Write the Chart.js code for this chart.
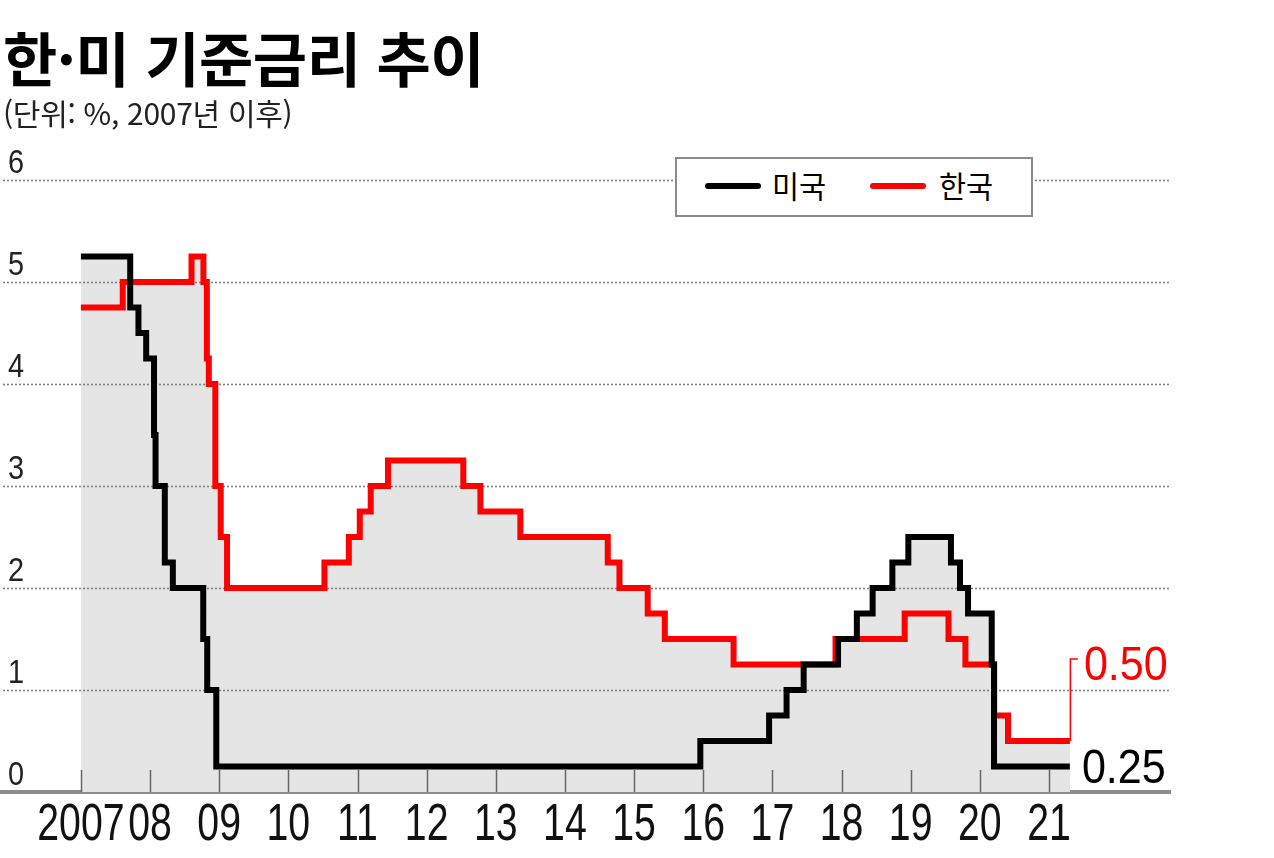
<!DOCTYPE html>
<html lang="ko">
<head>
<meta charset="utf-8">
<script src="https://cdn.jsdelivr.net/npm/chart.js@4.4.0/dist/chart.umd.min.js"></script>
<style>
  html, body { margin: 0; padding: 0; background: #fff; }
  #wrap { position: relative; width: 1274px; height: 858px; overflow: hidden; }
  #chart { position: absolute; left: 0; top: 0; }
  .title { position: absolute; left: 3px; top: 27px; font: 700 59px 'Noto Sans CJK KR', sans-serif; line-height: 60px;
           letter-spacing: -0.5px; white-space: nowrap; }
  .sub { position: absolute; left: 3px; top: 94px; font: 400 30px 'Noto Sans CJK KR', sans-serif; line-height: 36px;
         letter-spacing: -0.3px; white-space: nowrap; color: #222; }
  .legend { position: absolute; left: 675px; top: 157px; width: 354px; height: 56px; background: #fff;
            border: 2px solid #8a8a8a; font: 400 31px 'Noto Sans CJK KR', sans-serif; }
  .legend .sw { position: absolute; top: 24px; width: 56px; height: 6px; border-radius: 3px; }
  .legend .lb { position: absolute; top: 6px; line-height: 40px; transform-origin: left top; transform: scaleX(0.95); }
</style>
</head>
<body>
<div id="wrap">
  <canvas id="chart" width="1274" height="858"></canvas>
  <div class="title">한·미 기준금리 추이</div>
  <div class="sub">(단위: %, 2007년 이후)</div>
  <div class="legend">
    <div class="sw" style="left:28px;background:#000"></div><div class="lb" style="left:95px">미국</div>
    <div class="sw" style="left:193px;background:#ff0000"></div><div class="lb" style="left:262px">한국</div>
  </div>
</div>
<script>
// 기준금리 변경일과 금리 (%)
const usDates = ['2007-01-01', '2007-09-18', '2007-10-31', '2007-12-11', '2008-01-22', '2008-01-30', '2008-03-18',
  '2008-04-30', '2008-10-08', '2008-10-29', '2008-12-16', '2015-12-16', '2016-12-14', '2017-03-15', '2017-06-14',
  '2017-12-13', '2018-03-21', '2018-06-13', '2018-09-26', '2018-12-19', '2019-07-31', '2019-09-18', '2019-10-30',
  '2020-03-03', '2020-03-15', '2021-04-20'];
const usRates = [5.25, 4.75, 4.5, 4.25, 3.5, 3.0, 2.25, 2.0, 1.5, 1.0, 0.25, 0.5, 0.75, 1.0, 1.25,
  1.5, 1.75, 2.0, 2.25, 2.5, 2.25, 2.0, 1.75, 1.25, 0.25, 0.25];

const krDates = ['2007-01-01', '2007-08-09', '2008-08-07', '2008-10-09', '2008-10-27', '2008-11-07', '2008-12-11',
  '2009-01-09', '2009-02-12', '2010-07-09', '2010-11-16', '2011-01-13', '2011-03-10', '2011-06-10', '2012-07-12',
  '2012-10-11', '2013-05-09', '2014-08-14', '2014-10-15', '2015-03-12', '2015-06-11', '2016-06-09', '2017-11-30',
  '2018-11-30', '2019-07-18', '2019-10-16', '2020-03-16', '2020-05-28', '2021-04-20'];
const krRates = [4.75, 5.0, 5.25, 5.0, 4.25, 4.0, 3.0, 2.5, 2.0, 2.25, 2.5, 2.75, 3.0, 3.25, 3.0,
  2.75, 2.5, 2.25, 2.0, 1.75, 1.5, 1.25, 1.5, 1.75, 1.5, 1.25, 0.75, 0.5, 0.5];

const yearTicks = [2007, 2008, 2009, 2010, 2011, 2012, 2013, 2014, 2015, 2016, 2017, 2018, 2019, 2020, 2021];
const tickLabels = ['2007', '08', '09', '10', '11', '12', '13', '14', '15', '16', '17', '18', '19', '20', '21'];

const SANS = "'Liberation Sans', Arial, sans-serif";

// 날짜 문자열 -> 소수 연도
function toYear(s) {
  const [y, m, d] = s.split('-').map(Number);
  return y + (m - 1) / 12 + (d - 1) / 365;
}
function points(dates, rates) {
  return dates.map((d, i) => ({ x: toYear(d), y: rates[i] }));
}

// 좁은 글꼴 흉내 (가로 축소)
function narrowText(ctx, text, x, y, sx) {
  ctx.save();
  ctx.translate(x, y);
  ctx.scale(sx, 1);
  ctx.fillText(text, 0, 0);
  ctx.restore();
}

// 점선 격자, 눈금, 축 라벨, 끝값 표시
const overlay = {
  id: 'overlay',
  beforeDatasetsDraw(chart) {
    const { ctx, chartArea, scales: { x, y } } = chart;
    ctx.save();
    ctx.strokeStyle = '#808080';
    ctx.lineWidth = 1.6;
    ctx.setLineDash([2, 2]);
    y.ticks.forEach(t => {
      if (t.value === 0) return;
      const py = Math.round(y.getPixelForValue(t.value)) + 0.5;
      ctx.beginPath();
      ctx.moveTo(chartArea.left + 3, py);
      ctx.lineTo(chartArea.right, py);
      ctx.stroke();
    });
    ctx.setLineDash([]);
    ctx.strokeStyle = '#666';
    ctx.lineWidth = 1.5;
    x.ticks.forEach(t => {
      const px = Math.round(x.getPixelForValue(t.value)) + 0.5;
      ctx.beginPath();
      ctx.moveTo(px, chartArea.bottom - 22);
      ctx.lineTo(px, chartArea.bottom);
      ctx.stroke();
    });
    ctx.restore();
  },
  afterDraw(chart) {
    const { ctx, chartArea, scales: { x, y } } = chart;
    ctx.save();
    ctx.fillStyle = '#111';
    ctx.textBaseline = 'alphabetic';
    // x축 라벨
    ctx.font = '51px ' + SANS;
    ctx.textAlign = 'center';
    x.ticks.forEach((t, i) => {
      narrowText(ctx, tickLabels[i], x.getPixelForValue(t.value), chartArea.bottom + 48, 0.77);
    });
    // y축 라벨 (격자선 위, 왼쪽)
    ctx.font = '34px ' + SANS;
    ctx.textAlign = 'left';
    ctx.fillStyle = '#222';
    y.ticks.forEach(t => {
      narrowText(ctx, String(t.value), chartArea.left + 8, y.getPixelForValue(t.value) - 7, 0.85);
    });
    // 끝값
    const us = chart.getDatasetMeta(0).data;
    const kr = chart.getDatasetMeta(1).data;
    const pu = us[us.length - 1];
    const pk = kr[kr.length - 1];
    ctx.strokeStyle = '#ff0000';
    ctx.lineWidth = 1.5;
    ctx.beginPath();
    ctx.moveTo(pk.x + 0.5, pk.y);
    ctx.lineTo(pk.x + 0.5, pk.y - 82);
    ctx.lineTo(pk.x + 8, pk.y - 82);
    ctx.stroke();
    ctx.font = '49px ' + SANS;
    ctx.fillStyle = '#ff0000';
    narrowText(ctx, krRates[krRates.length - 1].toFixed(2), pk.x + 14, pk.y - 61, 0.88);
    ctx.fillStyle = '#000';
    narrowText(ctx, usRates[usRates.length - 1].toFixed(2), pu.x + 12, pu.y + 16, 0.88);
    ctx.restore();
  }
};

new Chart(document.getElementById('chart'), {
  type: 'line',
  data: {
    datasets: [{
      label: '미국',
      data: points(usDates, usRates),
      borderColor: '#000',
      backgroundColor: '#e5e5e5',
      borderWidth: 6,
      stepped: true,
      fill: 'origin',
      pointRadius: 0,
      borderJoinStyle: 'miter',
      borderCapStyle: 'butt'
    }, {
      label: '한국',
      data: points(krDates, krRates),
      borderColor: '#ff0000',
      backgroundColor: '#e5e5e5',
      borderWidth: 6,
      stepped: true,
      fill: 'origin',
      pointRadius: 0,
      borderJoinStyle: 'miter',
      borderCapStyle: 'butt'
    }]
  },
  options: {
    responsive: false,
    animation: false,
    layout: { padding: { top: 180, left: 0, right: 104, bottom: 66 } },
    plugins: {
      legend: { display: false },
      tooltip: { enabled: false },
      filler: { drawTime: 'beforeDatasetsDraw' }
    },
    scales: {
      x: {
        type: 'linear',
        min: 2005.83,
        max: 2022.75,
        afterBuildTicks: scale => { scale.ticks = yearTicks.map(v => ({ value: v })); },
        ticks: { display: false },
        grid: { display: false, drawTicks: false },
        border: { display: true, color: '#8c8c8c', width: 4 }
      },
      y: {
        min: 0,
        max: 6,
        afterFit: scale => { scale.width = 0; },
        ticks: { stepSize: 1, display: false },
        grid: { display: false, drawTicks: false },
        border: { display: false }
      }
    }
  },
  plugins: [overlay]
});
</script>
</body>
</html>
